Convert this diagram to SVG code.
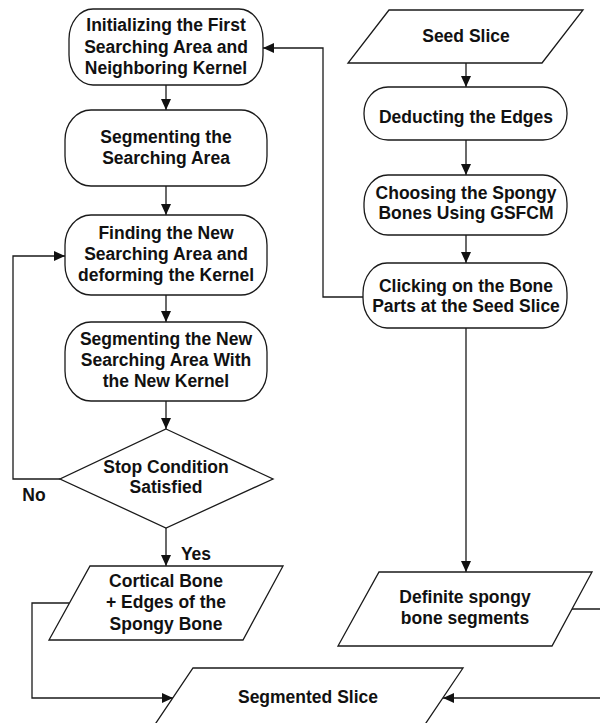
<svg xmlns="http://www.w3.org/2000/svg" width="600" height="723" viewBox="0 0 600 723">
<style>
.s{fill:#fff;stroke:#1a1a1a;stroke-width:1.3}
.c{fill:none;stroke:#1a1a1a;stroke-width:1.3}
text{font-family:"Liberation Sans",Arial,sans-serif;font-weight:bold;font-size:17.5px;fill:#111;text-anchor:middle}
</style>
<defs>
<marker id="a" markerUnits="userSpaceOnUse" markerWidth="12" markerHeight="10" refX="11" refY="5" orient="auto">
<path d="M0,0 L11,5 L0,10 Z" fill="#111"/>
</marker>
</defs>
<rect width="600" height="723" fill="#fff"/>
<g id="connectors">
<path class="c" d="M166,85 V110" marker-end="url(#a)"/>
<path class="c" d="M166,186 V215" marker-end="url(#a)"/>
<path class="c" d="M166,295 V322" marker-end="url(#a)"/>
<path class="c" d="M166,401 V429" marker-end="url(#a)"/>
<path class="c" d="M166,528 V566" marker-end="url(#a)"/>
<path class="c" d="M60,479 H13 V256 H65" marker-end="url(#a)"/>
<path class="c" d="M466,63 V87" marker-end="url(#a)"/>
<path class="c" d="M466,140 V175" marker-end="url(#a)"/>
<path class="c" d="M466,235 V263" marker-end="url(#a)"/>
<path class="c" d="M363,297 H323 V48 H263" marker-end="url(#a)"/>
<path class="c" d="M466,328 V572" marker-end="url(#a)"/>
<path class="c" d="M69,603 H32 V698 H173" marker-end="url(#a)"/>
<path class="c" d="M572,609 H610 V698 H443" marker-end="url(#a)"/>
<text x="196" y="560">Yes</text>
<text x="34" y="501">No</text>
</g>
<g id="n1"><rect class="s" x="69" y="9" width="194" height="76" rx="24" ry="30"/>
<text x="166" y="31">Initializing the First</text><text x="166" y="53">Searching Area and</text><text x="166" y="74">Neighboring Kernel</text></g>
<g id="n2"><rect class="s" x="65" y="110" width="202" height="76" rx="26" ry="30"/>
<text x="166" y="143">Segmenting the</text><text x="166" y="164">Searching Area</text></g>
<g id="n3"><rect class="s" x="65" y="215" width="202" height="80" rx="26" ry="30"/>
<text x="166" y="239">Finding the New</text><text x="166" y="260">Searching Area and</text><text x="166" y="281">deforming the Kernel</text></g>
<g id="n4"><rect class="s" x="65" y="322" width="202" height="79" rx="26" ry="30"/>
<text x="166" y="345">Segmenting the New</text><text x="166" y="366">Searching Area With</text><text x="166" y="387">the New Kernel</text></g>
<g id="n5"><polygon class="s" points="166,429 273,479 166,528 60,479"/>
<text x="166" y="473">Stop Condition</text><text x="166" y="493">Satisfied</text></g>
<g id="n6"><polygon class="s" points="90,566 283,566 243,640 49,640"/>
<text x="166" y="587">Cortical Bone</text><text x="166" y="608">+ Edges of the</text><text x="166" y="630">Spongy Bone</text></g>
<g id="n7"><polygon class="s" points="193,668 463,668 401,760 131,760"/>
<text x="308" y="703">Segmented Slice</text></g>
<g id="n8"><polygon class="s" points="389,10 583,10 542,63 348,63"/>
<text x="466" y="42">Seed Slice</text></g>
<g id="n9"><rect class="s" x="364" y="87" width="203" height="53" rx="24" ry="26"/>
<text x="466" y="123">Deducting the Edges</text></g>
<g id="n10"><rect class="s" x="364" y="175" width="203" height="60" rx="24" ry="28"/>
<text x="466" y="199">Choosing the Spongy</text><text x="466" y="219">Bones Using GSFCM</text></g>
<g id="n11"><rect class="s" x="363" y="263" width="204" height="65" rx="24" ry="30"/>
<text x="466" y="292">Clicking on the Bone</text><text x="466" y="312">Parts at the Seed Slice</text></g>
<g id="n12"><polygon class="s" points="379,572 592,572 552,646 338,646"/>
<text x="465" y="603">Definite spongy</text><text x="465" y="624">bone segments</text></g>
</svg>
